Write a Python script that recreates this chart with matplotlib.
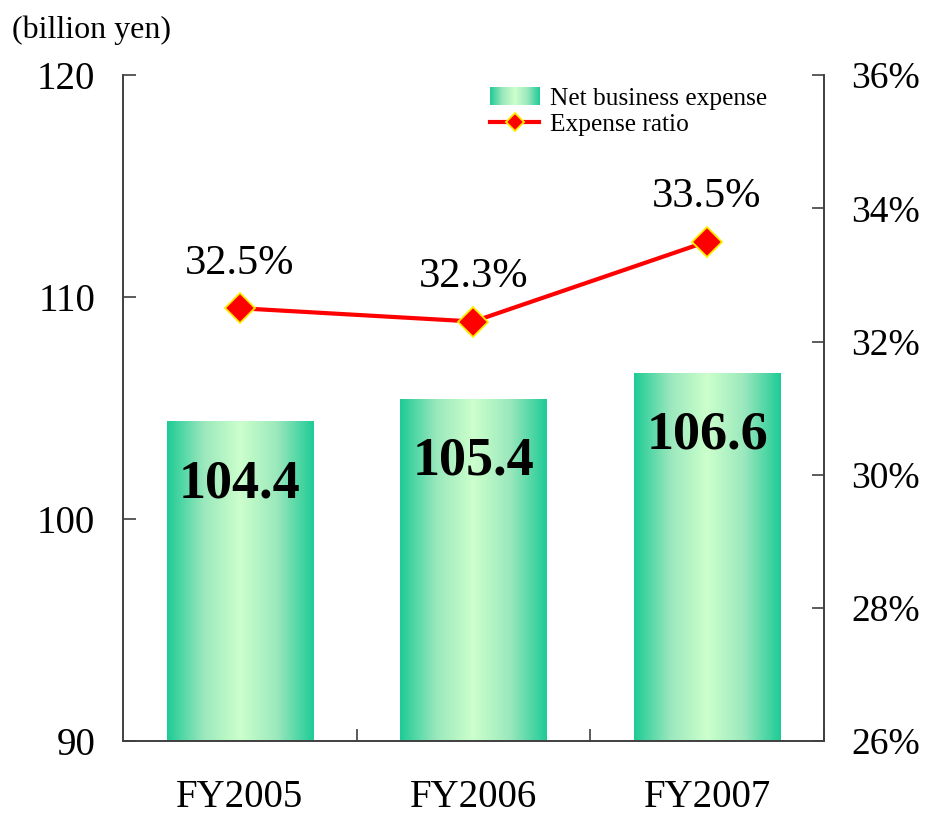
import numpy as np
import matplotlib
matplotlib.use("Agg")
import matplotlib.pyplot as plt
from matplotlib.colors import LinearSegmentedColormap
from matplotlib.legend_handler import HandlerBase
from matplotlib.image import BboxImage
from matplotlib.transforms import Bbox, TransformedBbox
from matplotlib.patches import Rectangle
from matplotlib.lines import Line2D

plt.rcParams["font.family"] = ["Liberation Serif", "DejaVu Serif"]

years = ["FY2005", "FY2006", "FY2007"]
expense = [104.4, 105.4, 106.6]
ratio = [32.5, 32.3, 33.5]
left_ticks = [90, 100, 110, 120]
right_ticks = [26, 28, 30, 32, 34, 36]

green = LinearSegmentedColormap.from_list(
    "bar_green", ["#1ecb96", "#9be8bd", "#ccffcc", "#9be8bd", "#1ecb96"])
grad = np.linspace(0, 1, 256).reshape(1, -1)


class GradientHandler(HandlerBase):
    def create_artists(self, legend, orig_handle, xdescent, ydescent,
                       width, height, fontsize, trans):
        bb = TransformedBbox(Bbox.from_bounds(-xdescent, -ydescent, width, height), trans)
        img = BboxImage(bb, cmap=green, interpolation="bilinear")
        img.set_data(grad)
        return [img]


fig = plt.figure(figsize=(9.27, 8.17), dpi=100)
ax = fig.add_axes([0.1327, 0.093, 0.756, 0.815])
x = np.arange(len(years))

bars = ax.bar(x, expense, width=0.625, color="none", edgecolor="none", zorder=2)
for b in bars:
    x0, w, h = b.get_x(), b.get_width(), b.get_height()
    im = ax.imshow(grad, cmap=green, aspect="auto", interpolation="bilinear",
                   extent=(x0, x0 + w, 90, h), zorder=2)
    im.set_clip_path(b)
    ax.text(x0 + w / 2, h - 1.7, f"{h:.1f}", ha="center", va="top",
            fontsize=39, fontweight="bold", zorder=4)

ax.set_xlim(-0.5, 2.5)
ax.set_ylim(90, 120)
ax.set_yticks(left_ticks)
ax.tick_params(axis="y", direction="in", length=9, width=1.2, pad=20,
               labelsize=28, colors="#404040", labelcolor="black")
ax.set_xticks([0.5, 1.5, 2.5])
ax.set_xticklabels([])
ax.set_xticks(x, minor=True)
ax.set_xticklabels(years, minor=True)
ax.tick_params(axis="x", which="major", direction="in", length=9, width=1.2,
               colors="#404040")
ax.tick_params(axis="x", which="minor", length=0, pad=27, labelsize=28)
ax.spines["top"].set_visible(False)
for s in ("left", "bottom", "right"):
    ax.spines[s].set_color("#404040")
    ax.spines[s].set_linewidth(1.2)

ax2 = ax.twinx()
ax2.plot(x, ratio, color="red", lw=3, marker="D", ms=15,
         mfc="red", mec="#ffee00", mew=1.3, zorder=5)
for xi, r in zip(x, ratio):
    ax2.text(xi, r + 0.38, f"{r:.1f}%", ha="center", va="bottom", fontsize=30.5)
ax2.set_ylim(26, 36)
ax2.set_yticks(right_ticks)
ax2.set_yticklabels([f"{t}%" for t in right_ticks])
ax2.tick_params(axis="y", direction="in", length=9, width=1.2, pad=20,
                labelsize=27, colors="#404040", labelcolor="black")
ax2.spines["top"].set_visible(False)
for s in ("left", "bottom", "right"):
    ax2.spines[s].set_color("#404040")
    ax2.spines[s].set_linewidth(1.2)

fig.text(0.013, 0.963, "(billion yen)", fontsize=23, va="center", ha="left")

bar_handle = Rectangle((0, 0), 1, 1)
line_handle = Line2D([], [], color="red", lw=3, marker="D", ms=9,
                     mfc="red", mec="#ffee00", mew=1.3)
ax2.legend([bar_handle, line_handle], ["Net business expense", "Expense ratio"],
           handler_map={Rectangle: GradientHandler()},
           loc="upper right", bbox_to_anchor=(0.944, 1.008), frameon=False,
           fontsize=18.3, handlelength=1.95, handletextpad=0.4,
           labelspacing=0.12, borderpad=0.2)

fig.savefig("out.png", dpi=100)
